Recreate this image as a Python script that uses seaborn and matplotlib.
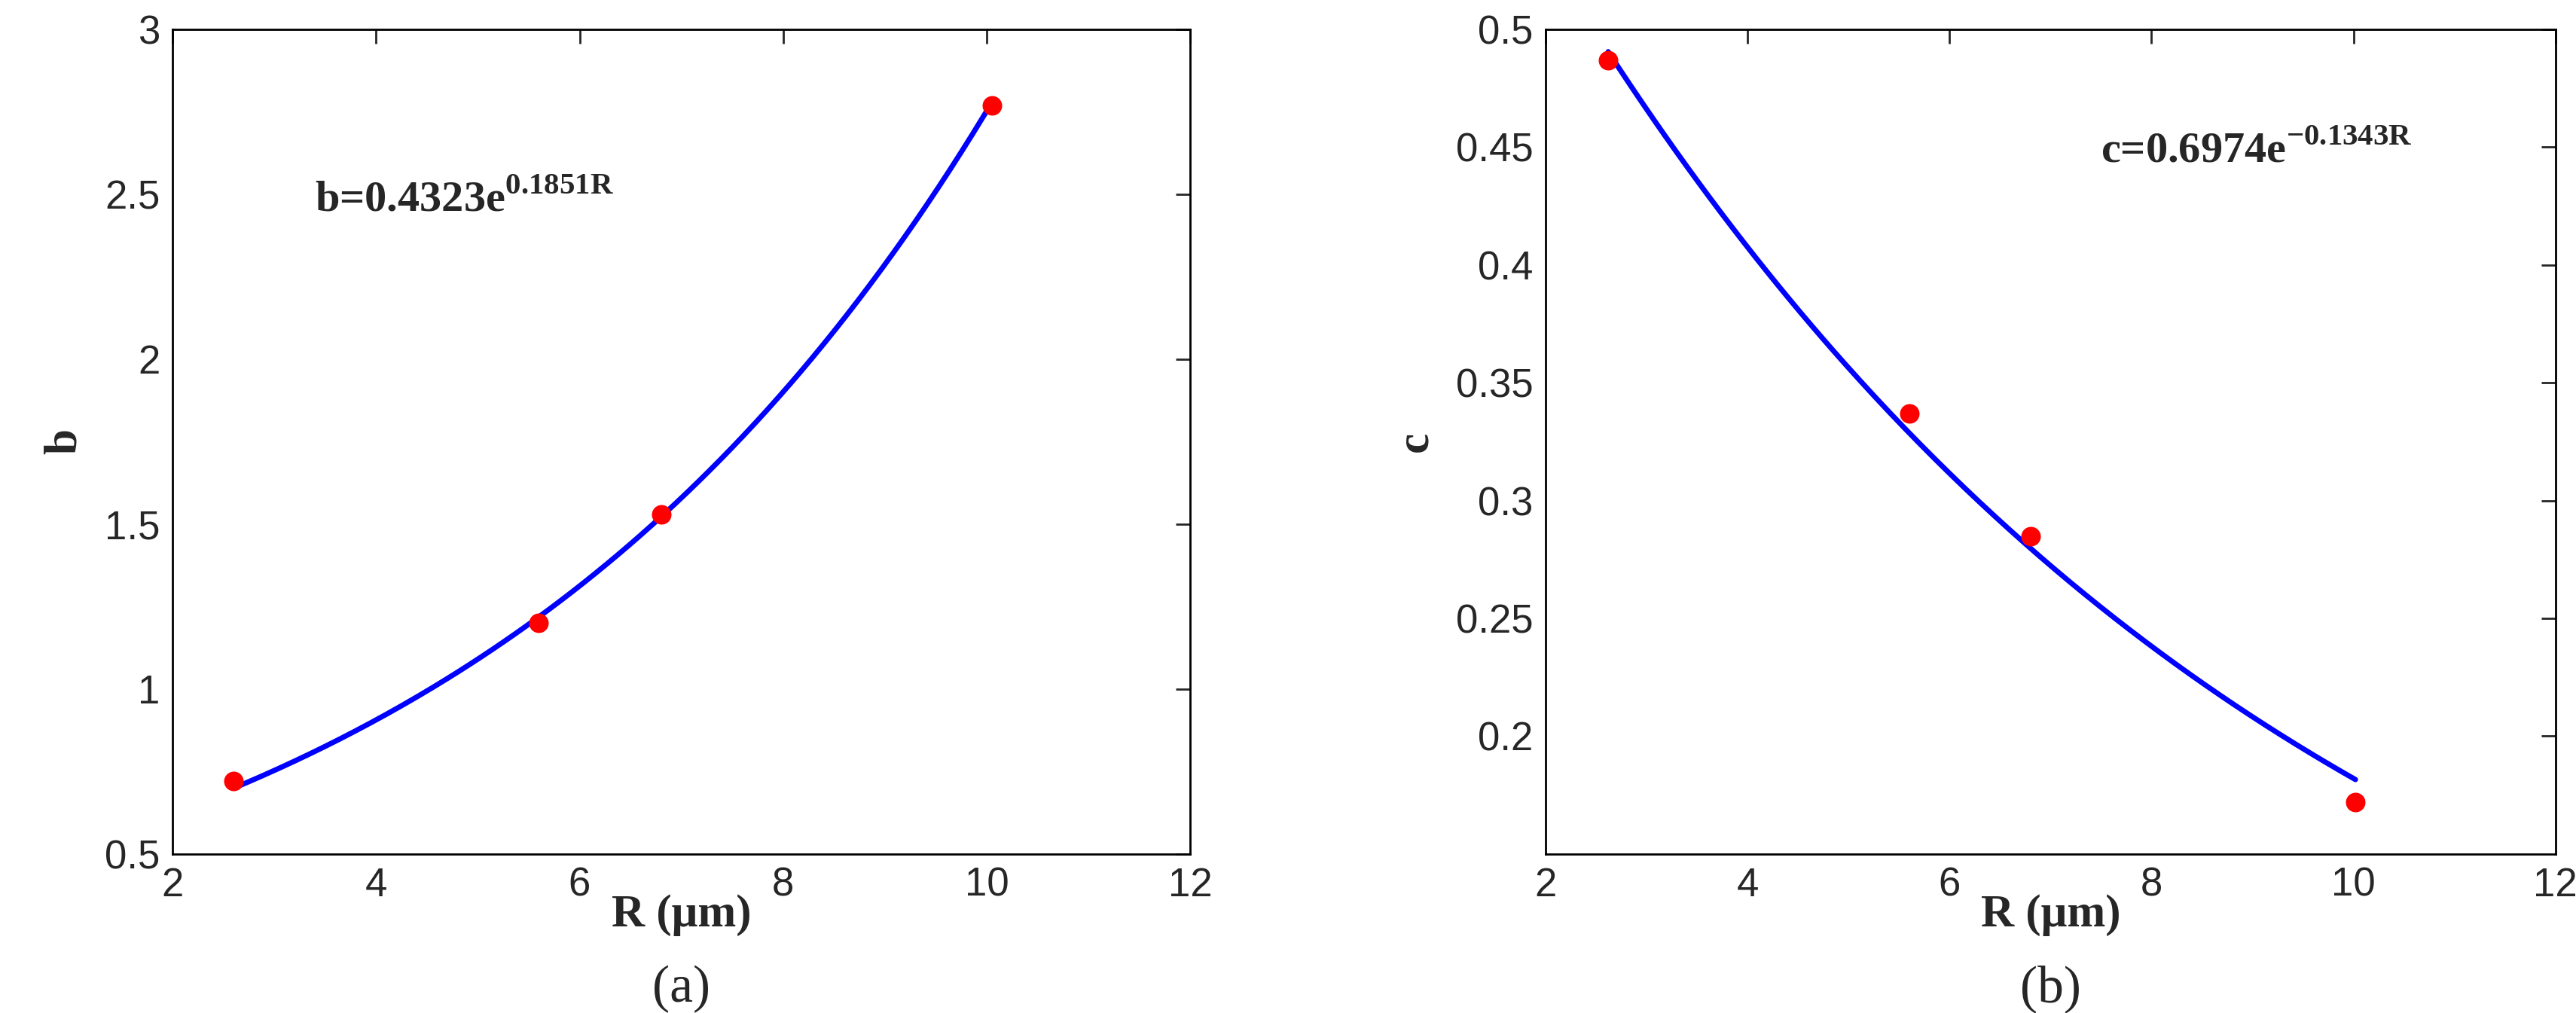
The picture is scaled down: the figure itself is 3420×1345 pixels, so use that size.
import numpy as np
import matplotlib.pyplot as plt
import seaborn as sns

sns.set_theme()
sns.set_style("white")
plt.rcParams['font.family'] = ['Liberation Sans', 'DejaVu Sans']
plt.rcParams['mathtext.fontset'] = 'custom'
plt.rcParams['mathtext.rm'] = 'Liberation Serif'
plt.rcParams['mathtext.bf'] = 'Liberation Serif:bold'

# measured points
R_b = [2.6, 5.6, 6.8, 10.05]
b_vals = [0.72, 1.20, 1.53, 2.77]
R_c = [2.62, 5.6, 6.8, 10.02]
c_vals = [0.487, 0.337, 0.285, 0.172]

# fitted coefficients shown on the chart
b_coef = (0.4323, 0.1851)
c_coef = (0.6974, -0.1343)

fig = plt.figure(figsize=(34.2, 13.45), dpi=100)
ax1 = fig.add_axes([0.067, 0.157, 0.395, 0.814])
ax2 = fig.add_axes([0.600, 0.157, 0.392, 0.814])

serif = ['Liberation Serif', 'DejaVu Serif']

def panel(ax, R, y, coef, ylabel, label, eq, eqpos, ylim, yticks):
    rr = np.linspace(min(R), max(R), 200)
    sns.lineplot(x=rr, y=coef[0] * np.exp(coef[1] * rr), ax=ax, color="blue", linewidth=5)
    sns.scatterplot(x=R, y=y, ax=ax, color="red", s=300, edgecolor="red", zorder=3)
    ax.set_xlim(2, 12)
    ax.set_ylim(*ylim)
    ax.set_xticks([2, 4, 6, 8, 10, 12])
    ax.set_yticks(yticks)
    ax.set_yticklabels([f"{t:g}" for t in yticks])
    ax.tick_params(direction="in", length=14, width=2, labelsize=38, top=True, right=True, pad=12)
    for s in ax.spines.values():
        s.set_linewidth(2)
        s.set_color("black")
    ax.set_xlabel("R (μm)", family=serif, fontweight="bold", fontsize=44, labelpad=-10)
    ax.set_ylabel(ylabel, family=serif, fontweight="bold", fontsize=44, labelpad=18)
    ax.text(eqpos[0], eqpos[1], eq, transform=ax.transAxes, family=serif, fontweight="bold", fontsize=42)
    ax.text(0.5, -0.135, label, transform=ax.transAxes, ha="center", va="top", family=serif, fontsize=50)

panel(ax1, R_b, b_vals, b_coef, "b", "(a)", r"b=0.4323e$^{\mathbf{0.1851R}}$",
      (0.14, 0.78), (0.5, 3), [0.5, 1, 1.5, 2, 2.5, 3])
panel(ax2, R_c, c_vals, c_coef, "c", "(b)", r"c=0.6974e$^{\mathbf{-0.1343R}}$",
      (0.55, 0.84), (0.15, 0.5), [0.2, 0.25, 0.3, 0.35, 0.4, 0.45, 0.5])

fig.savefig("out.png", dpi=100)
